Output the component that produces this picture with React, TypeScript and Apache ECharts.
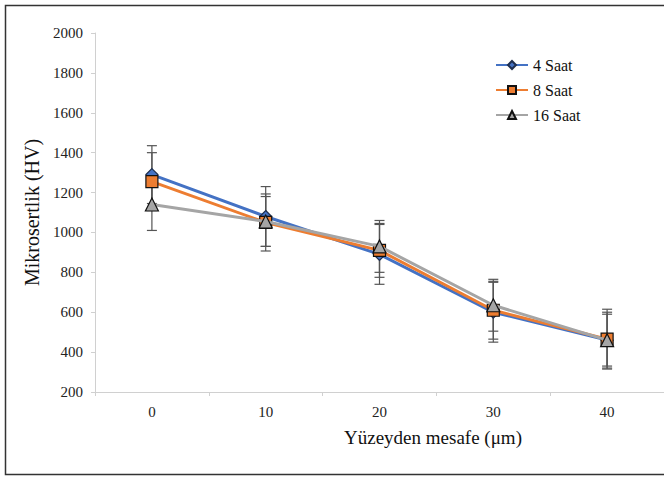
import React, { useEffect, useRef } from "react";
import * as echarts from "echarts";

const categories = ["0", "10", "20", "30", "40"];
const s4 = [1290, 1080, 890, 600, 460];
const s8 = [1255, 1050, 910, 610, 465];
const s16 = [1140, 1055, 930, 635, 460];
const e4 = [145, 150, 150, 150, 140];
const e8 = [145, 143, 135, 145, 150];
const e16 = [130, 125, 130, 130, 130];
const seriesNames = ["4 Saat", "8 Saat", "16 Saat"];
const yTicks = { min: 200, max: 2000, interval: 200 };

const errSeries = (vals: number[], errs: number[], name: string) => ({
  type: "custom",
  name: name + " err",
  z: 1,
  silent: true,
  data: vals.map((v, i) => [i, v - errs[i], v + errs[i]]),
  renderItem: (params: any, api: any) => {
    const x = api.value(0);
    const lo = api.coord([x, api.value(1)]);
    const hi = api.coord([x, api.value(2)]);
    const w = 5;
    const style = { stroke: "#555", lineWidth: 1.2 };
    return {
      type: "group",
      children: [
        { type: "line", shape: { x1: lo[0], y1: lo[1], x2: hi[0], y2: hi[1] }, style },
        { type: "line", shape: { x1: lo[0] - w, y1: lo[1], x2: lo[0] + w, y2: lo[1] }, style },
        { type: "line", shape: { x1: hi[0] - w, y1: hi[1], x2: hi[0] + w, y2: hi[1] }, style },
      ],
    };
  },
});

export default function App() {
  const ref = useRef<HTMLDivElement>(null);
  useEffect(() => {
    document.body.style.margin = "0";
    const chart = echarts.init(ref.current!, undefined, { renderer: "svg" });
    const font = "Liberation Serif";
    chart.setOption({
      animation: false,
      textStyle: { fontFamily: font },
      grid: { left: 95, top: 33, width: 575, height: 359 },
      legend: {
        orient: "vertical",
        left: 490,
        top: 52,
        itemWidth: 32,
        itemHeight: 10,
        itemGap: 9,
        textStyle: { fontFamily: font, fontSize: 16, color: "#111" },
        data: seriesNames,
      },
      xAxis: {
        type: "category",
        data: categories,
        boundaryGap: true,
        axisLine: { lineStyle: { color: "#d0d0d0" } },
        axisTick: { show: true, length: 4, lineStyle: { color: "#d0d0d0" } },
        axisLabel: { fontFamily: font, fontSize: 15, color: "#222", margin: 12 },
        splitLine: { show: false },
      },
      yAxis: {
        type: "value",
        min: yTicks.min,
        max: yTicks.max,
        interval: yTicks.interval,
        name: "Mikrosertlik (HV)",
        nameLocation: "middle",
        nameGap: 51,
        nameTextStyle: { fontFamily: font, fontSize: 20, color: "#111" },
        axisLine: { show: true, lineStyle: { color: "#d0d0d0" } },
        axisTick: { show: true, length: 4, lineStyle: { color: "#d0d0d0" } },
        axisLabel: {
          fontFamily: font,
          fontSize: 15,
          color: "#222",
          margin: 12,
          formatter: (v: number) => String(v),
        },
        splitLine: { show: false },
      },
      graphic: [
        {
          type: "rect",
          shape: { x: 5.5, y: 5.5, width: 670, height: 469 },
          style: { fill: "none", stroke: "#333", lineWidth: 1.5 },
          silent: true,
        },
        {
          type: "text",
          x: 433,
          y: 437,
          style: {
            text: "Yüzeyden mesafe (μm)",
            font: "19px " + font,
            fill: "#111",
            textAlign: "center",
            textVerticalAlign: "middle",
          },
        },
      ],
      series: [
        errSeries(s4, e4, "4"),
        errSeries(s8, e8, "8"),
        errSeries(s16, e16, "16"),
        {
          type: "line",
          name: seriesNames[0],
          data: s4,
          z: 3,
          lineStyle: { color: "#4472C4", width: 3 },
          itemStyle: { color: "#4472C4", borderColor: "#1f2f4f", borderWidth: 1.2 },
          symbol: "diamond",
          symbolSize: 12,
        },
        {
          type: "line",
          name: seriesNames[1],
          data: s8,
          z: 4,
          lineStyle: { color: "#ED7D31", width: 3 },
          itemStyle: { color: "#ED7D31", borderColor: "#111", borderWidth: 1.2 },
          symbol: "rect",
          symbolSize: 12,
        },
        {
          type: "line",
          name: seriesNames[2],
          data: s16,
          z: 5,
          lineStyle: { color: "#A5A5A5", width: 3 },
          itemStyle: { color: "#A5A5A5", borderColor: "#111", borderWidth: 1.2 },
          symbol: "triangle",
          symbolSize: 13,
        },
      ],
    });
    return () => chart.dispose();
  }, []);
  return <div ref={ref} style={{ width: 664, height: 477 }} />;
}
